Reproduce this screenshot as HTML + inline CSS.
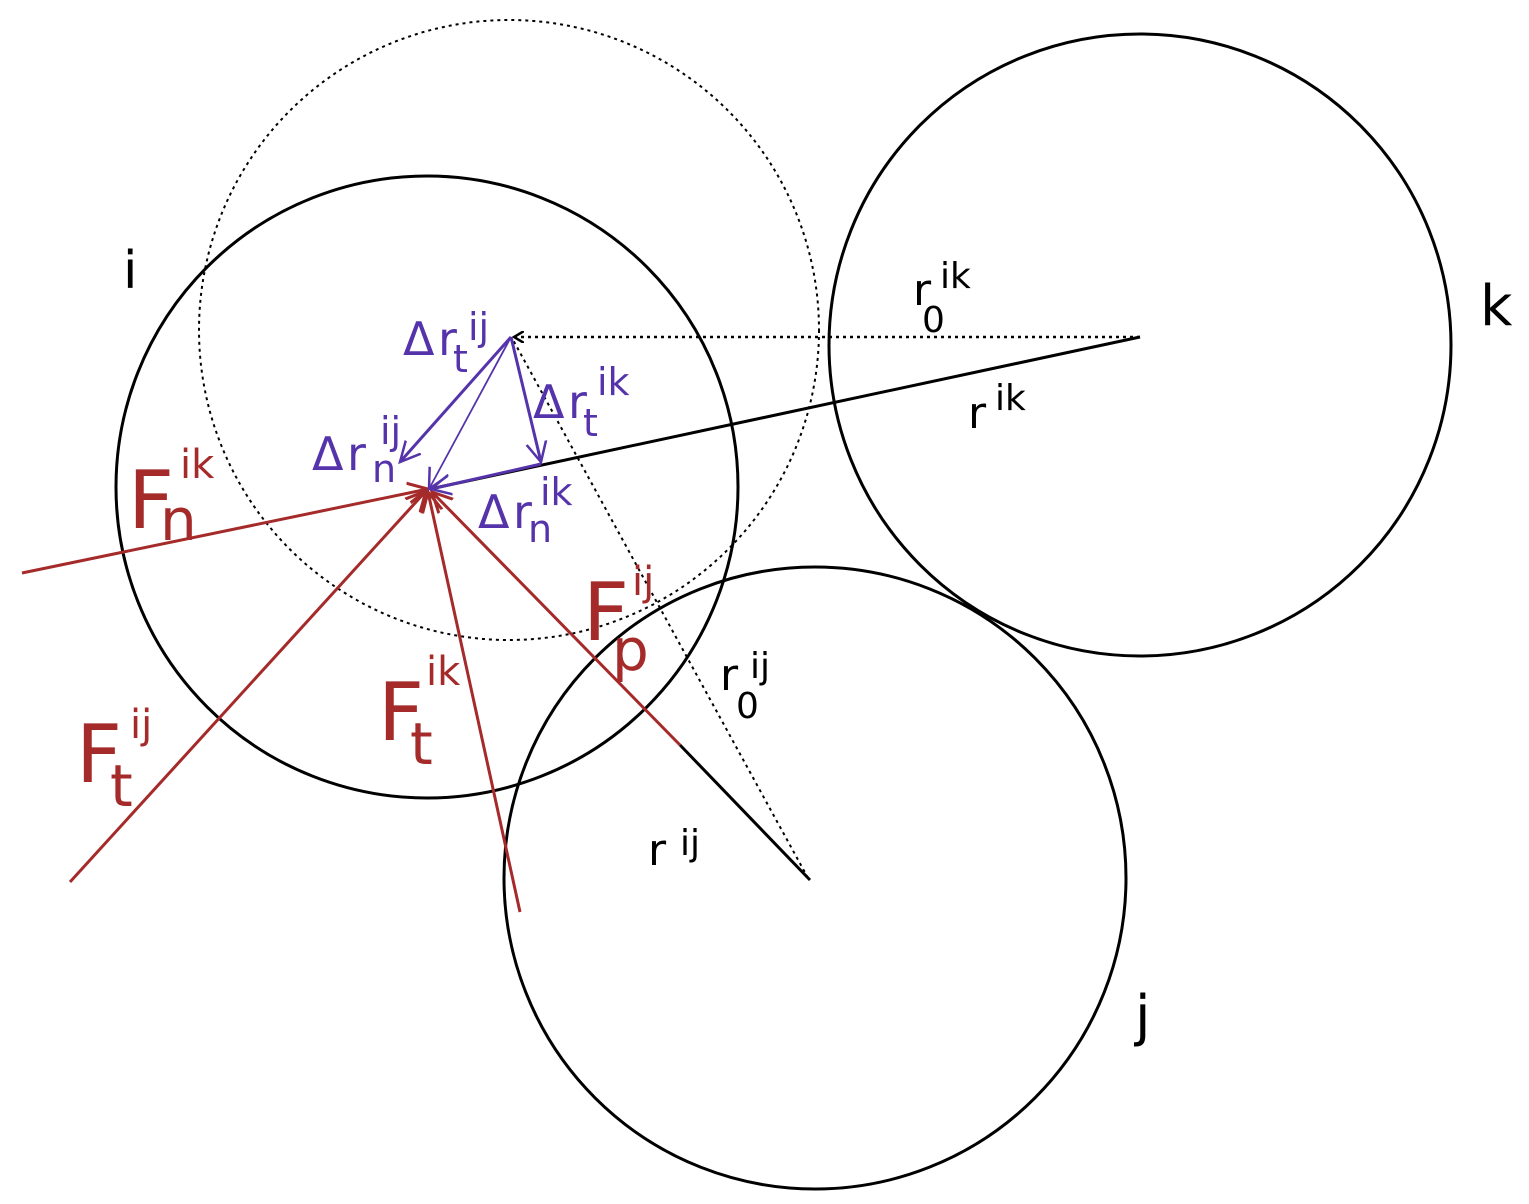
<!DOCTYPE html>
<html><head><meta charset="utf-8"><style>
html,body{margin:0;padding:0;background:#fff}
svg{display:block}
text{font-family:"DejaVu Sans","Liberation Sans",sans-serif}
</style></head><body>
<svg width="1529" height="1204" viewBox="0 0 1529 1204" xmlns="http://www.w3.org/2000/svg">
<defs>
<marker id="ab" markerWidth="12" markerHeight="12" refX="10" refY="6" orient="auto" markerUnits="userSpaceOnUse"><path d="M0,0 L10,6 L0,12" fill="none" stroke="#000" stroke-width="2.5"/></marker>
<marker id="ap" markerWidth="24" markerHeight="24" refX="20" refY="12" orient="auto" markerUnits="userSpaceOnUse"><path d="M0,2 L20,12 L0,22" fill="none" stroke="#5533aa" stroke-width="2.5"/></marker>
<marker id="ar" markerWidth="24" markerHeight="24" refX="20" refY="12" orient="auto" markerUnits="userSpaceOnUse"><path d="M0,2 L20,12 L0,22" fill="none" stroke="#a52a2a" stroke-width="3"/></marker>
</defs>
<g fill="none" stroke="#000" stroke-width="3">
<circle cx="509" cy="330" r="310" stroke-width="2" stroke-dasharray="3,4"/>
<circle cx="427" cy="487" r="311"/>
<circle cx="1140" cy="345" r="311"/>
<circle cx="815" cy="878" r="311"/>
<line x1="1140" y1="337" x2="430" y2="489"/>
<line x1="1140" y1="337" x2="514" y2="337" stroke-width="2.5" stroke-dasharray="3,4" marker-end="url(#ab)"/>
<line x1="808" y1="878" x2="512" y2="338" stroke-width="2" stroke-dasharray="3,4"/>
<line x1="810" y1="880" x2="680" y2="745"/>
</g>
<g stroke="#a52a2a" stroke-width="3" fill="none">
<line x1="22" y1="573" x2="428" y2="489" marker-end="url(#ar)"/>
<line x1="70" y1="882" x2="426" y2="491" marker-end="url(#ar)"/>
<line x1="520" y1="912" x2="428" y2="492" marker-end="url(#ar)"/>
<line x1="680" y1="745" x2="432" y2="492" marker-end="url(#ar)"/>
</g>
<g stroke="#5533aa" stroke-width="3" fill="none">
<line x1="511" y1="337" x2="400" y2="462" marker-end="url(#ap)"/>
<line x1="511" y1="337" x2="541" y2="462" marker-end="url(#ap)"/>
<line x1="511" y1="337" x2="429" y2="489" stroke-width="1.8" marker-end="url(#ap)"/>
<line x1="541" y1="464" x2="431" y2="489" marker-end="url(#ap)"/>
</g>
<g fill="#000" font-size="44">
<text x="123" y="288" font-size="52">i</text>
<text x="1480" y="325" font-size="56">k</text>
<text x="1135" y="1035" font-size="56">j</text>
<text x="913" y="305">r</text><text x="922" y="332" font-size="36">0</text><text x="940" y="288" font-size="36">ik</text>
<text x="968" y="428">r</text><text x="995" y="410" font-size="36">ik</text>
<text x="720" y="690">r</text><text x="736" y="718" font-size="36">0</text><text x="750" y="678" font-size="36">ij</text>
<text x="648" y="865">r</text><text x="680" y="855" font-size="36">ij</text>
</g>
<g fill="#a52a2a">
<text x="128" y="528" font-size="80">F</text><text x="160" y="540" font-size="58">n</text><text x="180" y="478" font-size="40">ik</text>
<text x="76" y="782" font-size="80">F</text><text x="110" y="806" font-size="58">t</text><text x="130" y="738" font-size="40">ij</text>
<text x="378" y="740" font-size="80">F</text><text x="410" y="764" font-size="58">t</text><text x="426" y="685" font-size="40">ik</text>
<text x="583" y="640" font-size="80">F</text><text x="612" y="670" font-size="58">p</text><text x="632" y="595" font-size="40">ij</text>
</g>
<g fill="#5533aa" font-size="46">
<text x="403" y="355">Δ</text><text x="438" y="355">r</text><text x="453" y="372" font-size="38">t</text><text x="468" y="340" font-size="38">ij</text>
<text x="533" y="418">Δ</text><text x="568" y="418">r</text><text x="583" y="436" font-size="38">t</text><text x="597" y="395" font-size="38">ik</text>
<text x="312" y="470">Δ</text><text x="347" y="470">r</text><text x="372" y="482" font-size="38">n</text><text x="380" y="444" font-size="38">ij</text>
<text x="478" y="528">Δ</text><text x="513" y="528">r</text><text x="528" y="542" font-size="38">n</text><text x="540" y="505" font-size="38">ik</text>
</g>
</svg>
</body></html>
